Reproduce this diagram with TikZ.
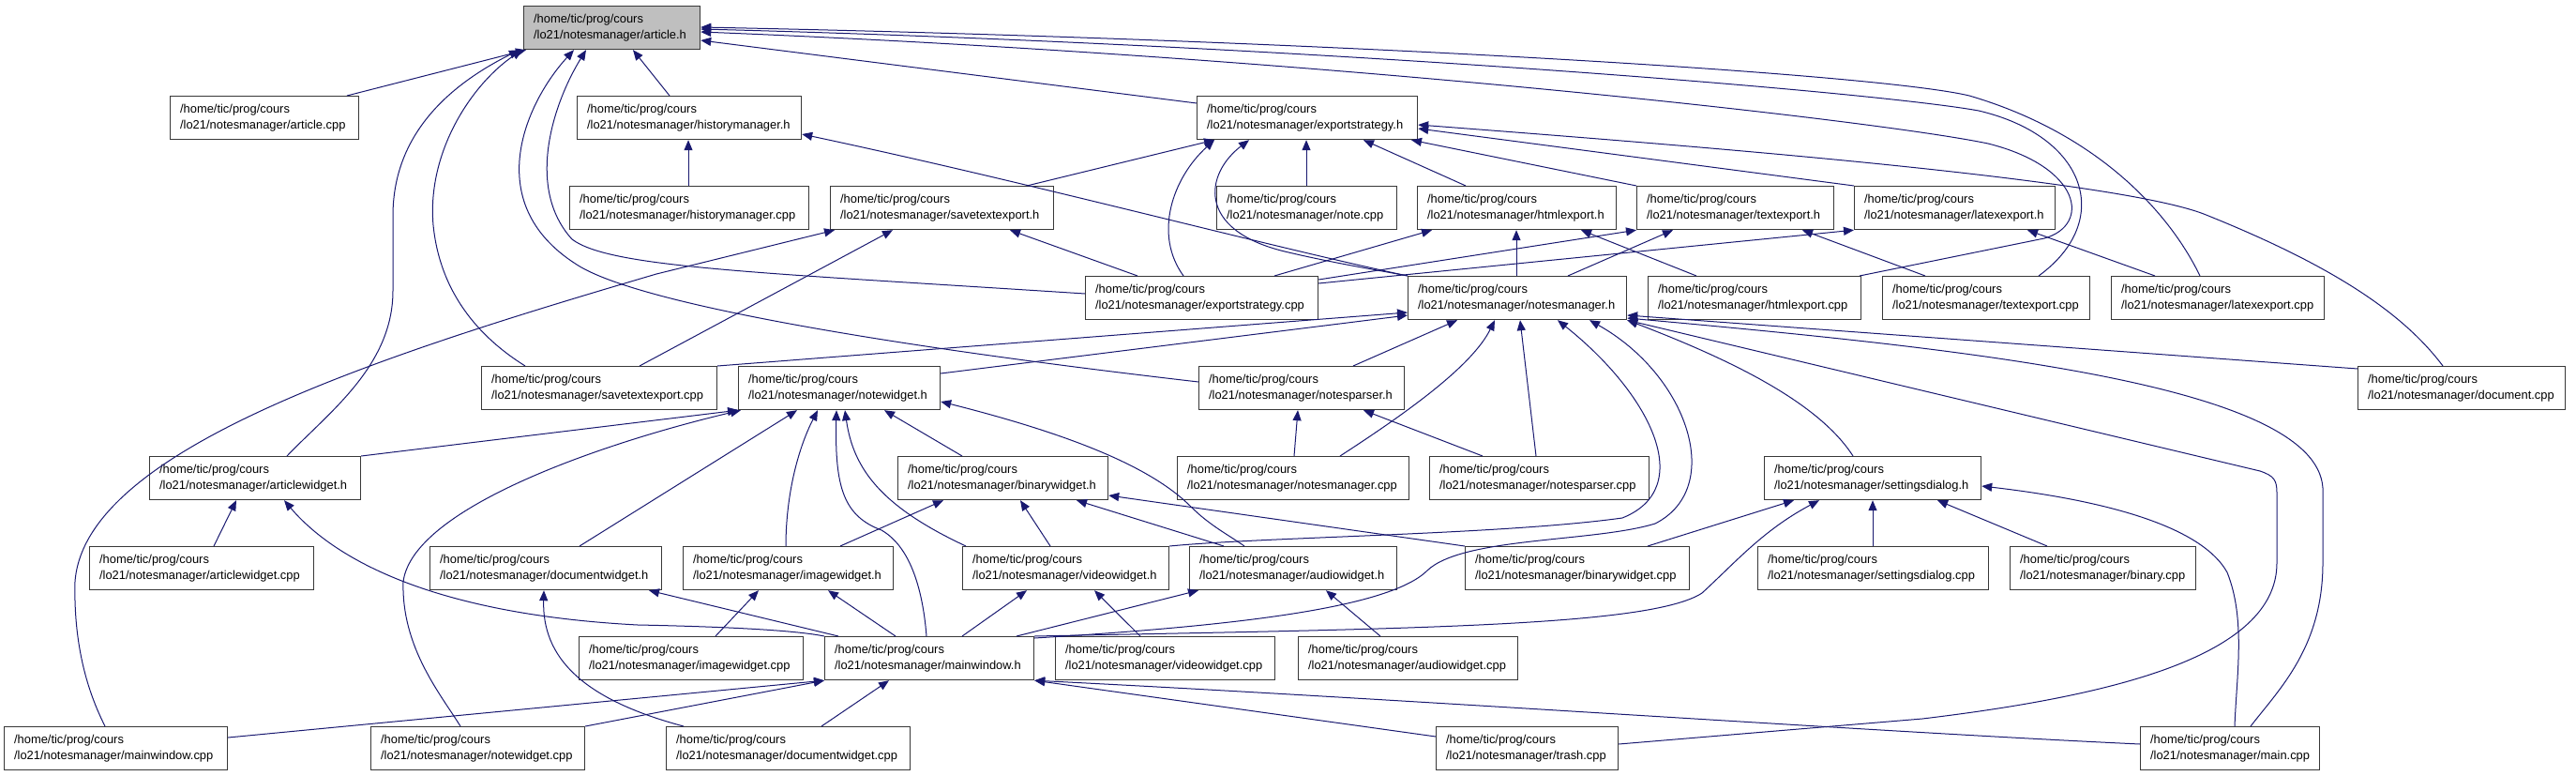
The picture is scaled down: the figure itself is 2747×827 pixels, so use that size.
\documentclass[tikz,border=0pt]{standalone}
\usepackage{fontspec}
\setmainfont{Liberation Sans}
\usetikzlibrary{arrows.meta,calc}
\definecolor{edgeblue}{HTML}{191970}
\definecolor{rootfill}{HTML}{BFBFBF}
\newcommand\fnode[6][white]{%
  \pgfmathsetmacro\tw{#4-#3-21}%
  \node[fbox, fill=#1, text width=\tw pt, anchor=north west] (#2) at (#3,#5) {/home/tic/prog/cours\\/lo21/notesmanager/#6};}
\begin{document}
\begin{tikzpicture}[x=1pt,y=-1pt,
  fbox/.style={draw=black!78, line width=1.2pt, minimum height=46pt, inner xsep=10.5pt, inner ysep=0pt, align=left, font=\fontsize{12.9}{17}\selectfont},
  dep/.style={draw=edgeblue, line width=1pt, {Triangle[length=11pt,width=9pt]}-}]
\useasboundingbox (0,0) rectangle (2747,827);
% row 0
\fnode[rootfill]{articleH}{558}{746}{6}{article.h}
% row 1
\fnode{articleCpp}{181}{382}{102}{article.cpp}
\fnode{histH}{615}{854}{102}{historymanager.h}
\fnode{expH}{1276}{1511}{102}{exportstrategy.h}
% row 2
\fnode{histCpp}{607}{862}{198}{historymanager.cpp}
\fnode{savH}{885}{1123}{198}{savetextexport.h}
\fnode{noteCpp}{1297}{1489}{198}{note.cpp}
\fnode{htmlH}{1511}{1723}{198}{htmlexport.h}
\fnode{textH}{1745}{1955}{198}{textexport.h}
\fnode{latexH}{1977}{2191}{198}{latexexport.h}
% row 3
\fnode{expCpp}{1157}{1405}{294}{exportstrategy.cpp}
\fnode{nmH}{1501}{1734}{294}{notesmanager.h}
\fnode{htmlCpp}{1757}{1984}{294}{htmlexport.cpp}
\fnode{textCpp}{2007}{2228}{294}{textexport.cpp}
\fnode{latexCpp}{2251}{2478}{294}{latexexport.cpp}
% row 4
\fnode{savCpp}{513}{764}{390}{savetextexport.cpp}
\fnode{nwH}{787}{1002}{390}{notewidget.h}
\fnode{npH}{1278}{1497}{390}{notesparser.h}
\fnode{docCpp}{2514}{2735}{390}{document.cpp}
% row 5
\fnode{awH}{159}{384}{486}{articlewidget.h}
\fnode{bwH}{957}{1181}{486}{binarywidget.h}
\fnode{nmCpp}{1255}{1502}{486}{notesmanager.cpp}
\fnode{npCpp}{1524}{1758}{486}{notesparser.cpp}
\fnode{sdH}{1881}{2112}{486}{settingsdialog.h}
% row 6
\fnode{awCpp}{95}{334}{582}{articlewidget.cpp}
\fnode{dwH}{458}{705}{582}{documentwidget.h}
\fnode{iwH}{728}{952}{582}{imagewidget.h}
\fnode{vwH}{1026}{1246}{582}{videowidget.h}
\fnode{auH}{1268}{1489}{582}{audiowidget.h}
\fnode{bwCpp}{1562}{1801}{582}{binarywidget.cpp}
\fnode{sdCpp}{1874}{2120}{582}{settingsdialog.cpp}
\fnode{binCpp}{2143}{2341}{582}{binary.cpp}
% row 7
\fnode{iwCpp}{617}{856}{678}{imagewidget.cpp}
\fnode{mwH}{879}{1102}{678}{mainwindow.h}
\fnode{vwCpp}{1125}{1359}{678}{videowidget.cpp}
\fnode{auCpp}{1384}{1618}{678}{audiowidget.cpp}
% row 8
\fnode{mwCpp}{4}{242}{774}{mainwindow.cpp}
\fnode{nwCpp}{395}{623}{774}{notewidget.cpp}
\fnode{dwCpp}{710}{970}{774}{documentwidget.cpp}
\fnode{trashCpp}{1531}{1725}{774}{trash.cpp}
\fnode{mainCpp}{2282}{2473}{774}{main.cpp}

% ---- edges into article.h
\draw[dep] ([xshift=3pt]articleH.south west) -- (articleCpp.north -| 370,0);
\draw[dep] (articleH.south -| 675,0) -- (histH.north -| 714,0);
\draw[dep] (articleH.east |- 0,43) -- (expH.west |- 0,110);
\draw[dep] ([xshift=-4pt]articleH.south west) .. controls (470,95) and (419,150) .. (419,230) -- (419,310) .. controls (419,390) and (350,440) .. (awH.north -| 306,0);
\draw[dep] ([xshift=-1pt]articleH.south west) .. controls (505,88) and (455,160) .. (462,240) .. controls (470,320) and (520,365) .. (savCpp.north -| 560,0);
\draw[dep] (articleH.south -| 612,0) .. controls (560,110) and (510,220) .. (620,285) .. controls (700,330) and (1000,375) .. (npH.west |- 0,407);
\draw[dep] (articleH.south -| 625,0) .. controls (590,110) and (560,200) .. (610,255) .. controls (650,285) and (800,290) .. (expCpp.west |- 0,313);
\draw[dep] (articleH.east |- 0,29) .. controls (1400,42) and (2000,78) .. (2100,102) .. controls (2230,140) and (2310,220) .. (latexCpp.north -| 2346,0);
\draw[dep] (articleH.east |- 0,31) .. controls (1400,48) and (2000,98) .. (2110,118) .. controls (2225,145) and (2255,235) .. (textCpp.north -| 2174,0);
\draw[dep] (articleH.east |- 0,34) .. controls (1400,60) and (2000,128) .. (2120,153) .. controls (2220,178) and (2230,240) .. (2180,254) -- (htmlCpp.north -| 1983,0);

% ---- edges into exportstrategy.h
\draw[dep] (expH.south -| 1295,0) -- (savH.north -| 1095,0);
\draw[dep] (expH.south -| 1295,0) .. controls (1250,190) and (1230,250) .. (expCpp.north -| 1262,0);
\draw[dep] (expH.south -| 1332,0) .. controls (1285,185) and (1275,245) .. (1370,268) .. controls (1420,280) and (1470,288) .. (nmH.north west);
\draw[dep] (expH.south -| 1393,0) -- (noteCpp.north -| 1393,0);
\draw[dep] (expH.south -| 1454,0) -- (htmlH.north -| 1563,0);
\draw[dep] (expH.south -| 1505,0) -- (textH.north west);
\draw[dep] (expH.east |- 0,137) -- (latexH.north west);
\draw[dep] (expH.east |- 0,133) .. controls (1800,155) and (2250,190) .. (2350,228) .. controls (2480,280) and (2560,330) .. (docCpp.north -| 2605,0);

% ---- historymanager.h
\draw[dep] (histH.south -| 734,0) -- (histCpp.north -| 734,0);
\draw[dep] (histH.east |- 0,143) .. controls (1100,195) and (1350,262) .. (nmH.north west);

% ---- savetextexport.h
\draw[dep] (savH.south -| 890,0) -- (700,292) .. controls (400,380) and (90,480) .. (80,620) .. controls (78,700) and (100,750) .. (mwCpp.north -| 112,0);
\draw[dep] (savH.south -| 952,0) -- (savCpp.north -| 682,0);
\draw[dep] (savH.south -| 1077,0) -- (expCpp.north -| 1213,0);

% ---- notesmanager.h
\draw[dep] (nmH.west |- 0,333) -- (savCpp.north east);
\draw[dep] (nmH.west |- 0,336) -- (nwH.east |- 0,398);
\draw[dep] (nmH.south -| 1554,0) -- (npH.north -| 1443,0);
\draw[dep] (nmH.south -| 1594,0) .. controls (1570,390) and (1500,440) .. (nmCpp.north -| 1429,0);
\draw[dep] (nmH.south -| 1621,0) -- (npCpp.north -| 1638,0);
\draw[dep] (nmH.south -| 1661,0) .. controls (1760,420) and (1810,520) .. (1730,552) .. controls (1600,570) and (1350,572) .. (vwH.north east);
\draw[dep] (nmH.south -| 1695,0) .. controls (1800,400) and (1840,520) .. (1765,558) .. controls (1700,578) and (1560,572) .. (1522,608) .. controls (1480,650) and (1300,668) .. (mwH.east |- 0,680);
\draw[dep] (nmH.east |- 0,336) -- (docCpp.west |- 0,393);
\draw[dep] (nmH.east |- 0,339) .. controls (2100,372) and (2470,410) .. (2477,520) -- (2477,600) .. controls (2477,690) and (2430,735) .. (mainCpp.north -| 2400,0);
\draw[dep] (nmH.south east) -- (2410,502) .. controls (2425,507) and (2428,512) .. (2428,525) -- (2428,600) .. controls (2428,700) and (2250,742) .. (2050,766) -- (trashCpp.east |- 0,793);
\draw[dep] (nmH.south east) .. controls (1850,385) and (1940,430) .. (sdH.north -| 1976,0);

% ---- htmlexport.h / textexport.h / latexexport.h
\draw[dep] (htmlH.south -| 1617,0) -- (nmH.north -| 1617,0);
\draw[dep] (htmlH.south -| 1686,0) -- (htmlCpp.north -| 1809,0);
\draw[dep] (htmlH.south -| 1527,0) -- (expCpp.north -| 1359,0);
\draw[dep] (textH.south west) -- (expCpp.east |- 0,298);
\draw[dep] (textH.south -| 1784,0) -- (nmH.north -| 1672,0);
\draw[dep] (textH.south -| 1922,0) -- (textCpp.north -| 2053,0);
\draw[dep] (latexH.south west) -- (expCpp.east |- 0,302);
\draw[dep] (latexH.south -| 2162,0) -- (latexCpp.north -| 2298,0);

% ---- notesparser.h
\draw[dep] (npH.south -| 1384,0) -- (nmCpp.north -| 1380,0);
\draw[dep] (npH.south -| 1454,0) -- (npCpp.north -| 1581,0);

% ---- notewidget.h
\draw[dep] (nwH.south west) -- (awH.north east);
\draw[dep] ([xshift=3pt]nwH.south west) .. controls (650,470) and (440,540) .. (430,620) .. controls (428,690) and (470,740) .. (nwCpp.north -| 491,0);
\draw[dep] (nwH.south -| 850,0) -- (dwH.north -| 618,0);
\draw[dep] (nwH.south -| 872,0) .. controls (850,480) and (838,530) .. (iwH.north -| 838,0);
\draw[dep] (nwH.south -| 892,0) .. controls (890,520) and (900,550) .. (940,565) .. controls (975,585) and (985,640) .. (mwH.north -| 988,0);
\draw[dep] (nwH.south -| 901,0) .. controls (910,500) and (940,540) .. (vwH.north -| 1030,0);
\draw[dep] (nwH.south -| 943,0) -- (bwH.north -| 1026,0);
\draw[dep] (nwH.east |- 0,428) .. controls (1150,465) and (1230,500) .. (1270,540) .. controls (1290,560) and (1310,570) .. (auH.north -| 1327,0);

% ---- binarywidget.h
\draw[dep] (bwH.south -| 1006,0) -- (iwH.north -| 896,0);
\draw[dep] (bwH.south -| 1088,0) -- (vwH.north -| 1120,0);
\draw[dep] (bwH.south -| 1148,0) -- (auH.north -| 1305,0);
\draw[dep] (bwH.east |- 0,528) -- (bwCpp.north west);

% ---- settingsdialog.h
\draw[dep] (sdH.south -| 1913,0) -- (bwCpp.north -| 1757,0);
\draw[dep] (sdH.south -| 1940,0) .. controls (1880,565) and (1850,600) .. (1815,632) .. controls (1760,668) and (1500,670) .. (mwH.north east);
\draw[dep] (sdH.south -| 1997,0) -- (sdCpp.north -| 1997,0);
\draw[dep] (sdH.south -| 2066,0) -- (binCpp.north -| 2183,0);
\draw[dep] (sdH.east |- 0,518) .. controls (2260,535) and (2350,565) .. (2375,610) .. controls (2395,660) and (2385,720) .. (mainCpp.north -| 2383,0);

% ---- articlewidget.h
\draw[dep] (awH.south -| 252,0) -- (awCpp.north -| 228,0);
\draw[dep] (awH.south -| 303,0) .. controls (360,600) and (470,655) .. (680,666) .. controls (780,668) and (850,672) .. (mwH.north west);

% ---- documentwidget.h / imagewidget.h / videowidget.h / audiowidget.h
\draw[dep] (dwH.south -| 580,0) .. controls (578,700) and (620,745) .. (dwCpp.north -| 729,0);
\draw[dep] (dwH.south -| 692,0) -- (mwH.north -| 894,0);
\draw[dep] (iwH.south -| 809,0) -- (iwCpp.north -| 763,0);
\draw[dep] (iwH.south -| 883,0) -- (mwH.north -| 955,0);
\draw[dep] (vwH.south -| 1095,0) -- (mwH.north -| 1026,0);
\draw[dep] (vwH.south -| 1167,0) -- (vwCpp.north -| 1216,0);
\draw[dep] (auH.south -| 1278,0) -- (mwH.north -| 1084,0);
\draw[dep] (auH.south -| 1414,0) -- (auCpp.north -| 1472,0);

% ---- mainwindow.h
\draw[dep] (mwH.south west) -- (mwCpp.east |- 0,786);
\draw[dep] (mwH.south west) -- (nwCpp.north east);
\draw[dep] (mwH.south -| 948,0) -- (dwCpp.north -| 876,0);
\draw[dep] (mwH.south east) .. controls (1500,745) and (2000,780) .. (mainCpp.west |- 0,793);
\draw[dep] (mwH.south east) -- (trashCpp.west |- 0,785);
\end{tikzpicture}
\end{document}
